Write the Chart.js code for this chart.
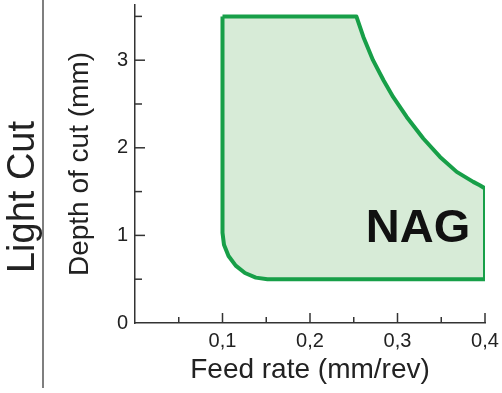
<!DOCTYPE html>
<html>
<head>
<meta charset="utf-8">
<script src="https://cdn.jsdelivr.net/npm/chart.js@4/dist/chart.umd.min.js"></script>
<style>
  html, body { margin: 0; padding: 0; background: #fff; }
  canvas { display: block; }
</style>
</head>
<body>
<canvas id="grafico" width="502" height="393"></canvas>
<script>
// Contorno da região NAG (sentido horário a partir do canto superior esquerdo)
const feedRate   = [0.1, 0.253, 0.261, 0.272, 0.284, 0.295, 0.3105, 0.3295, 0.3486, 0.3677, 0.3866, 0.394, 0.4, 0.4, 0.1514, 0.1381, 0.1257, 0.1151, 0.1069, 0.1017, 0.1, 0.1];
const depthOfCut = [3.5, 3.5, 3.265, 3.0, 2.771, 2.58, 2.352, 2.106, 1.896, 1.725, 1.611, 1.572, 1.536, 0.5, 0.5, 0.518, 0.571, 0.655, 0.765, 0.893, 1.03, 3.5];

// Ticks dos eixos
const xTicks = [0, 0.05, 0.1, 0.15, 0.2, 0.25, 0.3, 0.35, 0.4];
const yTicks = [0, 0.5, 1, 1.5, 2, 2.5, 3, 3.5];

const regionLabel = 'NAG';
const regionLabelPos = { x: 0.3234, y: 0.92 };
const sideTitle = 'Light Cut';

const FONT = "'Liberation Sans', Arial, sans-serif";
const TEXT = '#222';

const isMajor = v => Math.abs(v - Math.round(v)) < 1e-6;
const isMajorX = v => Math.abs(v * 10 - Math.round(v * 10)) < 1e-6;

// Plugin: ticks internos, texto lateral, separador e rótulo da região
const extras = {
    id: 'extras',
    afterDraw(chart) {
        const ctx = chart.ctx;
        const x = chart.scales.x, y = chart.scales.y;
        ctx.save();
        ctx.strokeStyle = '#333';
        ctx.lineWidth = 1.5;
        xTicks.forEach(v => {
            if (v === 0) return;
            const px = x.getPixelForValue(v);
            const len = isMajorX(v) ? 10 : 6;
            ctx.beginPath();
            ctx.moveTo(px, x.top);
            ctx.lineTo(px, x.top - len);
            ctx.stroke();
        });
        yTicks.forEach(v => {
            if (v === 0) return;
            const py = y.getPixelForValue(v);
            const len = isMajor(v) ? 10 : 7;
            ctx.beginPath();
            ctx.moveTo(y.right, py);
            ctx.lineTo(y.right + len, py);
            ctx.stroke();
        });

        // linha separadora
        ctx.strokeStyle = '#555';
        ctx.beginPath();
        ctx.moveTo(43, 0);
        ctx.lineTo(43, 388);
        ctx.stroke();

        // título lateral
        ctx.fillStyle = TEXT;
        ctx.font = '38px ' + FONT;
        ctx.textAlign = 'center';
        ctx.textBaseline = 'alphabetic';
        ctx.translate(34, 197);
        ctx.rotate(-Math.PI / 2);
        ctx.fillText(sideTitle, 0, 0);
        ctx.restore();

        // rótulo da região
        ctx.save();
        ctx.fillStyle = '#111';
        ctx.font = 'bold 47px ' + FONT;
        ctx.textAlign = 'center';
        ctx.textBaseline = 'alphabetic';
        ctx.fillText(regionLabel, x.getPixelForValue(regionLabelPos.x), y.getPixelForValue(regionLabelPos.y));
        ctx.restore();
    }
};

const pontos = feedRate.map((f, i) => ({ x: f, y: depthOfCut[i] }));

new Chart(document.getElementById('grafico'), {
    type: 'scatter',
    data: {
        datasets: [{
            data: pontos,
            showLine: true,
            tension: 0,
            borderColor: '#179f48',
            backgroundColor: '#d7ebd7',
            borderWidth: 4,
            borderJoinStyle: 'round',
            pointRadius: 0,
            fill: 'shape'
        }]
    },
    options: {
        responsive: false,
        animation: false,
        layout: { padding: { left: 0, top: 5, right: 17, bottom: 0 } },
        plugins: {
            legend: { display: false },
            tooltip: { enabled: false }
        },
        scales: {
            x: {
                type: 'linear',
                min: 0,
                max: 0.4,
                afterBuildTicks: s => { s.ticks = xTicks.map(v => ({ value: v })); },
                afterFit: s => { s.height = 70; s.paddingLeft = 0; s.paddingRight = 0; },
                grid: { display: false, drawTicks: false },
                border: { display: true, color: '#333', width: 1.5 },
                ticks: {
                    autoSkip: false,
                    maxRotation: 0,
                    padding: 6,
                    color: TEXT,
                    font: { family: FONT, size: 20 },
                    callback: v => (v !== 0 && isMajorX(v)) ? v.toFixed(1).replace('.', ',') : ''
                },
                title: {
                    display: true,
                    text: 'Feed rate (mm/rev)',
                    color: TEXT,
                    font: { family: FONT, size: 28 },
                    padding: { top: 0, bottom: 6 }
                }
            },
            y: {
                type: 'linear',
                min: 0,
                max: 3.63,
                afterBuildTicks: s => { s.ticks = yTicks.map(v => ({ value: v })); },
                afterFit: s => { s.width = 135; s.paddingTop = 0; s.paddingBottom = 0; },
                grid: { display: false, drawTicks: false },
                border: { display: true, color: '#333', width: 1.5 },
                ticks: {
                    autoSkip: false,
                    padding: 7,
                    color: TEXT,
                    font: { family: FONT, size: 20 },
                    callback: v => isMajor(v) ? String(v) : ''
                },
                title: {
                    display: true,
                    text: 'Depth of cut (mm)',
                    color: TEXT,
                    font: { family: FONT, size: 28 },
                    padding: { top: 63, bottom: 0 }
                }
            }
        }
    },
    plugins: [extras]
});
</script>
</body>
</html>
